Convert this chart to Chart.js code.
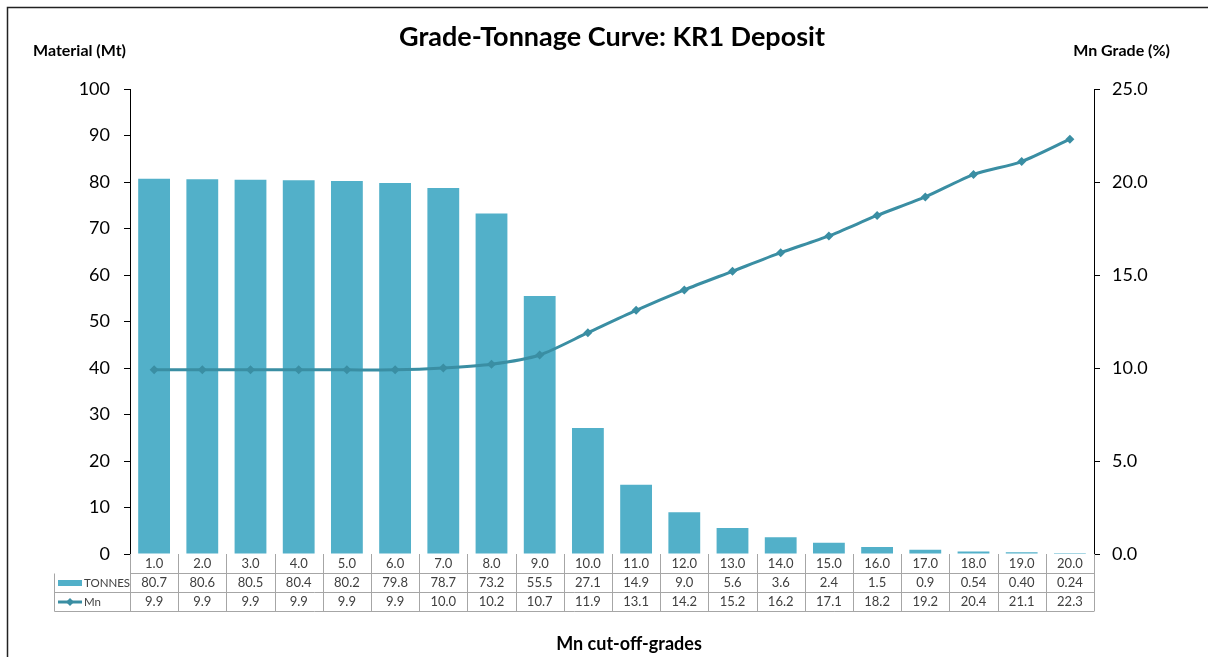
<!DOCTYPE html>
<html>
<head>
<meta charset="utf-8">
<script src="https://cdn.jsdelivr.net/npm/chart.js@4"></script>
<style>
  html, body { margin: 0; padding: 0; background: #fff; }
  #wrap { width: 1208px; height: 657px; position: relative; }
</style>
</head>
<body>
<div id="wrap"><canvas id="myChart" width="1208" height="657"></canvas></div>
<script>
var cutoffs = ['1.0', '2.0', '3.0', '4.0', '5.0', '6.0', '7.0', '8.0', '9.0', '10.0',
               '11.0', '12.0', '13.0', '14.0', '15.0', '16.0', '17.0', '18.0', '19.0', '20.0'];
var tonnes = [80.7, 80.6, 80.5, 80.4, 80.2, 79.8, 78.7, 73.2, 55.5, 27.1,
              14.9, 9.0, 5.6, 3.6, 2.4, 1.5, 0.9, 0.54, 0.40, 0.24];
var tonnesText = ['80.7', '80.6', '80.5', '80.4', '80.2', '79.8', '78.7', '73.2', '55.5', '27.1',
                  '14.9', '9.0', '5.6', '3.6', '2.4', '1.5', '0.9', '0.54', '0.40', '0.24'];
var mnGrade = [9.9, 9.9, 9.9, 9.9, 9.9, 9.9, 10.0, 10.2, 10.7, 11.9,
               13.1, 14.2, 15.2, 16.2, 17.1, 18.2, 19.2, 20.4, 21.1, 22.3];

var barColor = '#52B0C9';
var lineColor = '#3A8EA3';
var fontName = 'Lato, "Open Sans", sans-serif';

// titulos, marco y tabla de datos bajo el eje x
var extras = {
    id: 'extras',
    afterDraw: function(chart) {
        var ctx = chart.ctx;
        var x = chart.scales.x;
        var area = chart.chartArea;
        ctx.save();

        // marco
        ctx.strokeStyle = '#222';
        ctx.lineWidth = 1.5;
        ctx.beginPath();
        ctx.moveTo(1208, 7.5);
        ctx.lineTo(7.5, 7.5);
        ctx.lineTo(7.5, 657);
        ctx.stroke();

        ctx.fillStyle = '#000';
        ctx.textBaseline = 'middle';
        ctx.textAlign = 'center';
        ctx.font = 'bold 27px ' + fontName;
        ctx.fillText('Grade-Tonnage Curve: KR1 Deposit', 612, 37);

        ctx.font = 'bold 16px ' + fontName;
        ctx.textAlign = 'left';
        ctx.fillText('Material (Mt)', 33, 51);
        ctx.textAlign = 'right';
        ctx.fillText('Mn Grade (%)', 1170, 51);

        ctx.textAlign = 'center';
        ctx.font = 'bold 18px ' + fontName;
        ctx.fillText('Mn cut-off-grades', 629, 644);

        // tabla
        var rows = [area.bottom, 573.5, 592.5, 611.5];
        var step = (area.right - area.left) / cutoffs.length;
        ctx.strokeStyle = '#A6A6A6';
        ctx.lineWidth = 1;
        ctx.beginPath();
        for (var r = 1; r < rows.length; r++) {
            var x0 = r === 1 ? area.left : 54.5;
            ctx.moveTo(x0, rows[r]);
            ctx.lineTo(area.right, rows[r]);
        }
        ctx.moveTo(54.5, rows[1]);
        ctx.lineTo(54.5, rows[3]);
        for (var i = 0; i <= cutoffs.length; i++) {
            var vx = Math.round(area.left + i * step) + 0.5;
            ctx.moveTo(vx, rows[0]);
            ctx.lineTo(vx, rows[3]);
        }
        ctx.stroke();

        ctx.fillStyle = '#404040';
        ctx.font = '13px ' + fontName;
        for (var j = 0; j < cutoffs.length; j++) {
            var cx = x.getPixelForValue(j);
            ctx.fillText(cutoffs[j], cx, (rows[0] + rows[1]) / 2);
            ctx.fillText(tonnesText[j], cx, (rows[1] + rows[2]) / 2);
            ctx.fillText(mnGrade[j].toFixed(1), cx, (rows[2] + rows[3]) / 2);
        }

        // leyenda en la tabla
        var y1 = (rows[1] + rows[2]) / 2;
        var y2 = (rows[2] + rows[3]) / 2;
        ctx.fillStyle = barColor;
        ctx.fillRect(58, y1 - 3, 24, 6);
        ctx.strokeStyle = lineColor;
        ctx.lineWidth = 3;
        ctx.beginPath();
        ctx.moveTo(58, y2);
        ctx.lineTo(82, y2);
        ctx.stroke();
        ctx.fillStyle = lineColor;
        ctx.beginPath();
        ctx.moveTo(70, y2 - 4);
        ctx.lineTo(74, y2);
        ctx.lineTo(70, y2 + 4);
        ctx.lineTo(66, y2);
        ctx.closePath();
        ctx.fill();
        ctx.fillStyle = '#404040';
        ctx.textAlign = 'left';
        ctx.font = '11.5px ' + fontName;
        ctx.fillText('TONNES', 84, y1);
        ctx.fillText('Mn', 84, y2);

        ctx.restore();
    }
};

var ctx = document.getElementById('myChart');
var myChart = new Chart(ctx, {
    type: 'bar',
    data: {
        labels: cutoffs,
        datasets: [{
            type: 'line',
            label: 'Mn',
            data: mnGrade,
            yAxisID: 'y1',
            borderColor: lineColor,
            backgroundColor: lineColor,
            borderWidth: 3,
            pointStyle: 'rectRot',
            pointRadius: 4.5,
            pointBorderWidth: 0,
            tension: 0.25,
            order: 0
        }, {
            label: 'TONNES',
            data: tonnes,
            yAxisID: 'y',
            backgroundColor: barColor,
            categoryPercentage: 1.0,
            barPercentage: 0.66,
            order: 1
        }]
    },
    options: {
        responsive: false,
        animation: false,
        layout: { padding: { top: 89, left: 0, right: 0, bottom: 0 } },
        plugins: {
            legend: { display: false },
            title: { display: false },
            tooltip: { enabled: false }
        },
        scales: {
            x: {
                offset: true,
                grid: { display: false },
                border: { display: false },
                ticks: { display: false },
                afterFit: function(scale) { scale.height = 103; }
            },
            y: {
                position: 'left',
                min: 0,
                max: 100,
                ticks: {
                    stepSize: 10,
                    color: '#000',
                    padding: 14,
                    font: { family: fontName, size: 18 }
                },
                grid: {
                    drawOnChartArea: false,
                    drawTicks: true,
                    tickLength: 6,
                    color: '#000'
                },
                border: { color: '#000', width: 1 },
                afterFit: function(scale) { scale.width = 130; }
            },
            y1: {
                position: 'right',
                min: 0,
                max: 25,
                ticks: {
                    stepSize: 5,
                    color: '#000',
                    padding: 12,
                    font: { family: fontName, size: 18 },
                    callback: function(v) { return v.toFixed(1); }
                },
                grid: {
                    drawOnChartArea: false,
                    drawTicks: true,
                    tickLength: 6,
                    color: '#000'
                },
                border: { color: '#000', width: 1 },
                afterFit: function(scale) { scale.width = 114; }
            }
        }
    },
    plugins: [extras]
});
</script>
</body>
</html>
